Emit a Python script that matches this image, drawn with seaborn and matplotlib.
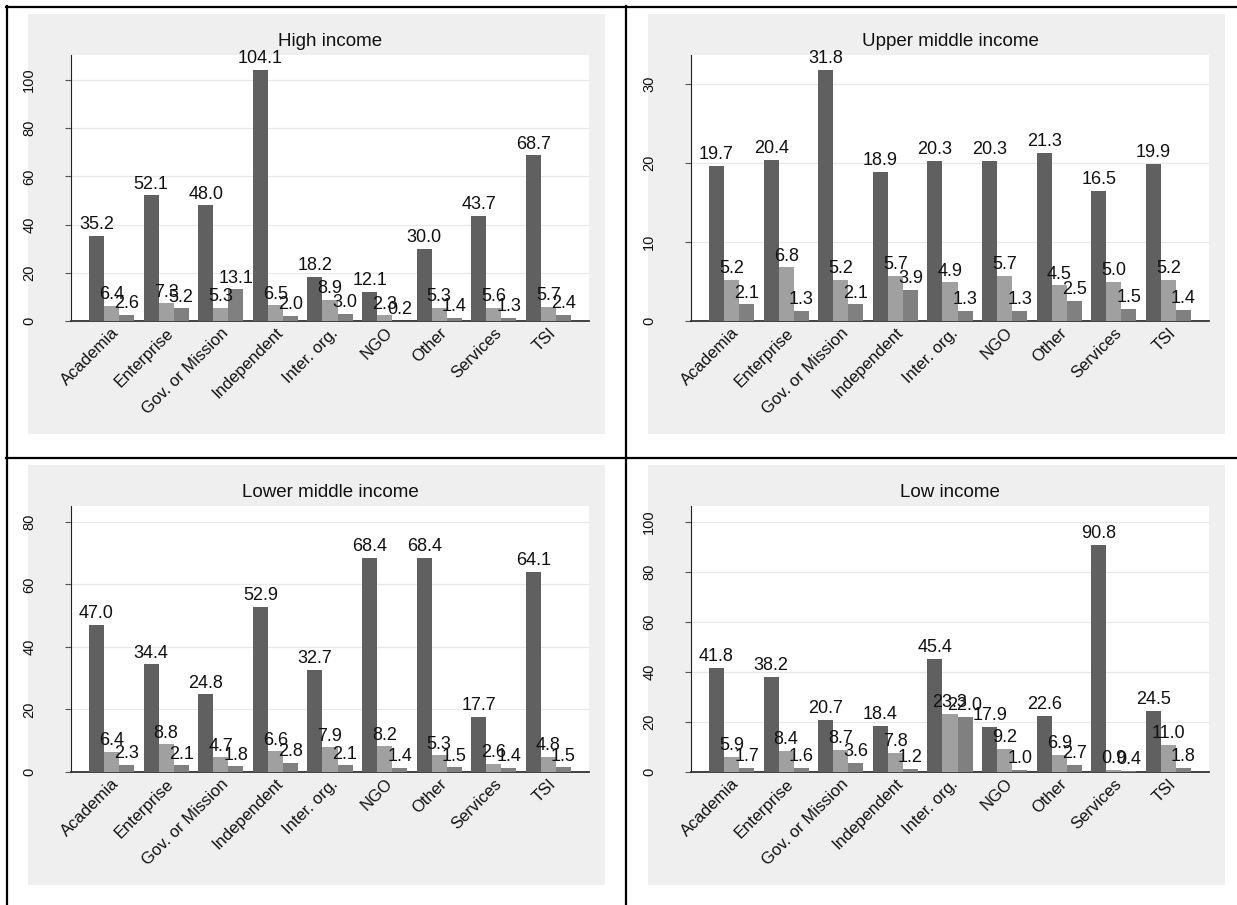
import matplotlib
matplotlib.use("Agg")
import matplotlib.pyplot as plt
import pandas as pd
import seaborn as sns
from matplotlib.patches import Rectangle
from matplotlib.lines import Line2D

# ---- data -------------------------------------------------------------
categories = ["Academia", "Enterprise", "Gov. or Mission", "Independent",
              "Inter. org.", "NGO", "Other", "Services", "TSI"]
series_names = ["first", "second", "third"]
panel_titles = ["High income", "Upper middle income",
                "Lower middle income", "Low income"]

high_first = [35.2, 52.1, 48.0, 104.1, 18.2, 12.1, 30.0, 43.7, 68.7]
high_second = [6.4, 7.3, 5.3, 6.5, 8.9, 2.3, 5.3, 5.6, 5.7]
high_third = [2.6, 5.2, 13.1, 2.0, 3.0, 0.2, 1.4, 1.3, 2.4]

upper_first = [19.7, 20.4, 31.8, 18.9, 20.3, 20.3, 21.3, 16.5, 19.9]
upper_second = [5.2, 6.8, 5.2, 5.7, 4.9, 5.7, 4.5, 5.0, 5.2]
upper_third = [2.1, 1.3, 2.1, 3.9, 1.3, 1.3, 2.5, 1.5, 1.4]

lower_first = [47.0, 34.4, 24.8, 52.9, 32.7, 68.4, 68.4, 17.7, 64.1]
lower_second = [6.4, 8.8, 4.7, 6.6, 7.9, 8.2, 5.3, 2.6, 4.8]
lower_third = [2.3, 2.1, 1.8, 2.8, 2.1, 1.4, 1.5, 1.4, 1.5]

low_first = [41.8, 38.2, 20.7, 18.4, 45.4, 17.9, 22.6, 90.8, 24.5]
low_second = [5.9, 8.4, 8.7, 7.8, 23.3, 9.2, 6.9, 0.9, 11.0]
low_third = [1.7, 1.6, 3.6, 1.2, 22.0, 1.0, 2.7, 0.4, 1.8]

y_ticks = [[0, 20, 40, 60, 80, 100], [0, 10, 20, 30],
           [0, 20, 40, 60, 80], [0, 20, 40, 60, 80, 100]]
y_tops = [110.4, 33.7, 85.1, 106.4]

panels = [
    (high_first, high_second, high_third),
    (upper_first, upper_second, upper_third),
    (lower_first, lower_second, lower_third),
    (low_first, low_second, low_third),
]

bar_colors = ["#606060", "#a0a0a0", "#808080"]

# ---- figure layout ----------------------------------------------------
W, H = 1237, 905
fig = plt.figure(figsize=(W / 100, H / 100), dpi=100, facecolor="white")
plt.rcParams["font.family"] = ["Liberation Sans", "DejaVu Sans"]


def fig_rect(x0, y0, x1, y1):
    return [x0 / W, 1 - y1 / H, (x1 - x0) / W, (y1 - y0) / H]


cell_dx = [0, 620]
cell_dy = [0, 451]

for idx, (s1, s2, s3) in enumerate(panels):
    col, row = idx % 2, idx // 2
    dx, dy = cell_dx[col], cell_dy[row]

    # grey panel background
    gx0, gy0, gx1, gy1 = 28 + dx, 14 + dy, 605 + dx, 434 + dy
    fig.add_artist(Rectangle((gx0 / W, 1 - gy1 / H), (gx1 - gx0) / W,
                             (gy1 - gy0) / H, transform=fig.transFigure,
                             facecolor="#efefef", edgecolor="none",
                             zorder=-5))

    px0, py0, px1, py1 = 71 + dx, 55 + dy, 589 + dx, 321 + dy
    ax = fig.add_axes(fig_rect(px0, py0, px1, py1))
    ax.set_facecolor("white")

    df = pd.DataFrame({
        "category": categories * 3,
        "series": [n for n in series_names for _ in categories],
        "value": list(s1) + list(s2) + list(s3),
    })
    sns.barplot(data=df, x="category", y="value", hue="series",
                order=categories, hue_order=series_names,
                palette=bar_colors, saturation=1, width=0.826,
                legend=False, ax=ax, zorder=3)

    for cont in ax.containers:
        ax.bar_label(cont, fmt="%.1f", padding=2, fontsize=13,
                     color="#111111", zorder=4)

    ax.set_xlim(-0.743, 8.743)
    ax.set_ylim(0, y_tops[idx])
    ax.set_yticks(y_ticks[idx])
    ax.set_yticklabels([str(t) for t in y_ticks[idx]], rotation=90,
                       va="center", fontsize=10.5)
    ax.yaxis.grid(True, color="#e8e8e8", linewidth=0.9, zorder=0)
    ax.set_axisbelow(True)
    ax.tick_params(axis="y", length=4, width=0.8, color="#555555",
                   pad=21, labelcolor="#111111")
    ax.tick_params(axis="x", length=0, pad=3)
    ax.set_xticks(range(len(categories)))
    ax.set_xticklabels(categories, rotation=45, ha="right", va="top",
                       rotation_mode="anchor", fontsize=12,
                       color="#111111")
    ax.set_xlabel("")
    ax.set_ylabel("")
    for side in ("top", "right"):
        ax.spines[side].set_visible(False)
    ax.spines["left"].set_color("#222222")
    ax.spines["left"].set_linewidth(0.8)
    ax.spines["bottom"].set_color("#333333")
    ax.spines["bottom"].set_linewidth(1.3)

    fig.text((px0 + px1) / 2 / W, 1 - (41 + dy) / H, panel_titles[idx],
             ha="center", va="center", fontsize=13.5, color="#111111")

# cell separator lines
line_kw = dict(transform=fig.transFigure, color="black", linewidth=1.6,
               zorder=10)
fig.add_artist(Line2D([6 / W, 1], [1 - 7 / H, 1 - 7 / H], **line_kw))
fig.add_artist(Line2D([6 / W, 1], [1 - 458 / H, 1 - 458 / H], **line_kw))
fig.add_artist(Line2D([7 / W, 7 / W], [0, 1 - 6 / H], **line_kw))
fig.add_artist(Line2D([626 / W, 626 / W], [0, 1 - 6 / H], **line_kw))

fig.savefig("out.png", dpi=100, facecolor="white")
